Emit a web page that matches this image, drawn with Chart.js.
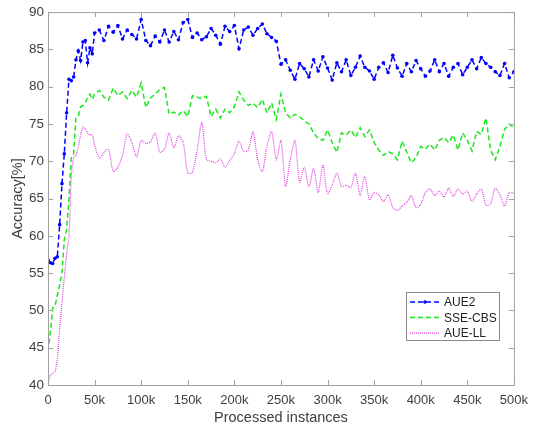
<!DOCTYPE html>
<html>
<head>
<meta charset="utf-8">
<script src="https://cdn.jsdelivr.net/npm/chart.js@4/dist/chart.umd.min.js"></script>
<style>
  html, body { margin: 0; padding: 0; background: #fff; }
  #wrap { width: 536px; height: 428px; }
</style>
</head>
<body>
<div id="wrap"><canvas id="grafico" width="536" height="428"></canvas></div>
<script>
// instâncias processadas (em milhares)
const instancias = [0, 2.5, 5, 7.5, 10, 12.5, 15, 17.5, 20, 22.5, 25, 27.5, 30, 32.5, 35, 37.5, 40, 42.5, 45, 47.5, 50,
  55, 60, 65, 70, 75, 80, 85, 90, 95, 100, 105, 110, 115, 120, 125, 130, 135, 140, 145, 150,
  155, 160, 165, 170, 175, 180, 185, 190, 195, 200, 205, 210, 215, 220, 225, 230, 235, 240, 245, 250,
  255, 260, 265, 270, 275, 280, 285, 290, 295, 300, 305, 310, 315, 320, 325, 330, 335, 340, 345, 350,
  355, 360, 365, 370, 375, 380, 385, 390, 395, 400, 405, 410, 415, 420, 425, 430, 435, 440, 445, 450,
  455, 460, 465, 470, 475, 480, 485, 490, 495, 500];

const aue2 = [56.8, 56.4, 56.3, 57, 57.2, 61.5, 67, 71, 76.5, 81, 80.8, 81.3, 83.6, 84.8, 83.5, 86, 86.2, 83.2, 85.2, 84.4, 87.2,
  87.6, 86.2, 88.1, 87.3, 88.2, 86.4, 87.6, 87, 86.4, 89, 86.2, 85.5, 86.8, 86, 87.6, 86, 87.4, 86.3, 88.6, 89,
  86.6, 87.2, 86.3, 86.7, 87.8, 86.9, 85.7, 88.1, 87.4, 88.2, 85.1, 87.6, 88, 86.9, 87.8, 88.4, 87.1, 86.6, 86.1, 83,
  83.6, 82.2, 81, 83.1, 82.4, 81.3, 83.6, 82.1, 84, 82.5, 80.9, 83.2, 82, 83.6, 81.5, 82.6, 84.1, 82.6, 82.1, 81,
  82.6, 83.2, 81.9, 84.2, 82.5, 81.4, 83.1, 82, 83.5, 82.4, 81.4, 82.1, 83.6, 82, 83.1, 81.4, 82.6, 83.1, 81.6, 82.6,
  83.6, 82.4, 83.9, 83.1, 82.6, 82, 81.5, 83.1, 81.2, 82];

const sseCbs = [44.5, 47, 50.3, 50.6, 52, 53.5, 55, 59.5, 60.8, 65, 70.5, 71, 75.8, 76, 77.3, 77.5, 77.8, 78.5, 79, 78.3, 79,
  79.5, 78.6, 78.2, 79.8, 78.8, 79.3, 78.4, 79.5, 78.6, 80.5, 77.2, 78.5, 79, 79.6, 79.9, 76.3, 76.6, 76.2, 76.8, 76,
  78.8, 78.6, 78.4, 78.7, 76, 77, 75.8, 77, 76.5, 77.3, 79.3, 78.2, 77.5, 77.8, 77.2, 78.3, 76.5, 77.8, 75.6, 79,
  76.5, 75.8, 76.3, 76, 75.4, 75, 73.8, 73, 72.8, 74.2, 72.5, 71.2, 73.8, 73.5, 74.2, 73.2, 74.5, 73.3, 74.2, 72.5,
  71.5, 70.8, 71.3, 71, 70.2, 72.7, 71.2, 69.8, 70.5, 72, 71.6, 72.3, 71.5, 72.8, 73.2, 72.5, 73.5, 71.5, 73.8, 72.8,
  71.4, 74, 73.6, 75.8, 71.5, 70.2, 72, 74.3, 75, 74.5];

const aueLL = [40.4, 41.3, 41.6, 41.8, 43.5, 47.5, 51, 54.5, 57.5, 60, 68, 70.5, 70.8, 72, 73.5, 74.6, 74.3, 73.8, 73.5, 73.6, 72.2,
  70.4, 71.2, 71.6, 68.6, 69.2, 70.8, 73.7, 72.5, 70.6, 72.8, 72.4, 72.6, 73.8, 71.2, 71.6, 73.8, 71.8, 73.4, 72.6, 68.4,
  68.5, 71.5, 75.2, 70.2, 70, 69.8, 70.3, 69.2, 70.1, 71, 72.7, 71.3, 71.5, 74, 70.2, 68.6, 72, 74, 70.2, 72.8,
  66.6, 70.2, 72.8, 67.2, 69.2, 66.6, 69, 65.8, 69.5, 65.6, 66.8, 68.4, 66.6, 66.8, 66.5, 68.4, 65.4, 68, 64.8, 65.8,
  65.5, 64.6, 65.5, 63.8, 63.4, 64, 64.5, 65.4, 63.8, 64.2, 65.8, 66.3, 65.4, 66, 65.2, 66.4, 65.3, 66.3, 65.6, 66,
  64.6, 65.6, 66.3, 64.1, 64.3, 66.4, 65.5, 64, 65.8, 65.7];

const xTicks = [0, 50, 100, 150, 200, 250, 300, 350, 400, 450, 500];
const yTicks = [40, 45, 50, 55, 60, 65, 70, 75, 80, 85, 90];

const corTexto = '#404040';
const corEixo = '#a0a0a0';
const fonte = 'Liberation Sans, Arial, sans-serif';

const pontos = arr => arr.map((v, i) => ({ x: instancias[i], y: v }));

// moldura estilo MATLAB: caixa completa + ticks para dentro
const moldura = {
    id: 'moldura',
    afterDraw(chart) {
        const { ctx, chartArea: a, scales } = chart;
        ctx.save();
        ctx.strokeStyle = corEixo;
        ctx.lineWidth = 1;
        ctx.strokeRect(a.left + 0.5, a.top + 0.5, a.right - a.left, a.bottom - a.top);
        ctx.beginPath();
        xTicks.forEach(t => {
            const px = Math.round(scales.x.getPixelForValue(t)) + 0.5;
            ctx.moveTo(px, a.bottom); ctx.lineTo(px, a.bottom - 5);
            ctx.moveTo(px, a.top); ctx.lineTo(px, a.top + 5);
        });
        yTicks.forEach(t => {
            const py = Math.round(scales.y.getPixelForValue(t)) + 0.5;
            ctx.moveTo(a.left, py); ctx.lineTo(a.left + 5, py);
            ctx.moveTo(a.right, py); ctx.lineTo(a.right - 5, py);
        });
        ctx.stroke();

        // legenda dentro do gráfico
        const lx = 406, ly = 292, lw = 93, lh = 48;
        ctx.fillStyle = '#fff';
        ctx.fillRect(lx, ly, lw, lh);
        ctx.strokeStyle = '#8a8a8a';
        ctx.strokeRect(lx + 0.5, ly + 0.5, lw, lh);
        ctx.font = '12px ' + fonte;
        ctx.textBaseline = 'middle';
        chart.data.datasets.forEach((ds, i) => {
            const y = ly + 10 + i * 15.5;
            ctx.strokeStyle = ds.borderColor;
            ctx.lineWidth = ds.borderWidth;
            ctx.setLineDash(ds.borderDash || []);
            ctx.beginPath();
            ctx.moveTo(lx + 4, y); ctx.lineTo(lx + 34, y);
            ctx.stroke();
            ctx.setLineDash([]);
            if (ds.pointRadius) {
                ctx.fillStyle = ds.borderColor;
                ctx.beginPath();
                ctx.arc(lx + 19, y, ds.pointRadius, 0, Math.PI * 2);
                ctx.fill();
            }
            ctx.fillStyle = '#222';
            ctx.fillText(ds.label, lx + 38, y + 1);
        });
        ctx.restore();
    }
};

new Chart(document.getElementById('grafico').getContext('2d'), {
    type: 'line',
    data: {
        datasets: [
            { label: 'AUE2', data: pontos(aue2), borderColor: '#0000ff', backgroundColor: '#0000ff',
              borderWidth: 1.5, borderDash: [5, 3], pointRadius: 1.8, pointBorderWidth: 0 },
            { label: 'SSE-CBS', data: pontos(sseCbs), borderColor: '#1de81d', backgroundColor: '#1de81d',
              borderWidth: 1.5, borderDash: [5, 3], pointRadius: 0 },
            { label: 'AUE-LL', data: pontos(aueLL), borderColor: '#e040e0', backgroundColor: '#e040e0',
              borderWidth: 1.2, borderDash: [1, 1], pointRadius: 0, tension: 0.25 }
        ]
    },
    options: {
        responsive: false,
        animation: false,
        layout: { padding: { top: 12, right: 17, left: 0, bottom: 0 } },
        plugins: { legend: { display: false }, tooltip: { enabled: false } },
        scales: {
            x: {
                type: 'linear', min: 0, max: 500,
                afterFit: s => { s.height = 43; },
                afterBuildTicks: s => { s.ticks = xTicks.map(v => ({ value: v })); },
                grid: { display: false, drawTicks: false },
                border: { display: false },
                ticks: { color: corTexto, font: { size: 13, family: fonte }, padding: 8,
                         maxRotation: 0, callback: v => v === 0 ? '0' : v + 'k' },
                title: { display: true, text: 'Processed instances', color: corTexto,
                         font: { size: 14.5, family: fonte }, padding: { top: 0, bottom: 1 } }
            },
            y: {
                min: 40, max: 90,
                afterFit: s => { s.width = 48; },
                afterBuildTicks: s => { s.ticks = yTicks.map(v => ({ value: v })); },
                grid: { display: false, drawTicks: false },
                border: { display: false },
                ticks: { color: corTexto, font: { size: 13.5, family: fonte }, padding: 4 },
                title: { display: true, text: 'Accuracy[%]', color: corTexto,
                         font: { size: 14.5, family: fonte }, padding: { top: 9, bottom: 0 } }
            }
        }
    },
    plugins: [moldura]
});
</script>
</body>
</html>
